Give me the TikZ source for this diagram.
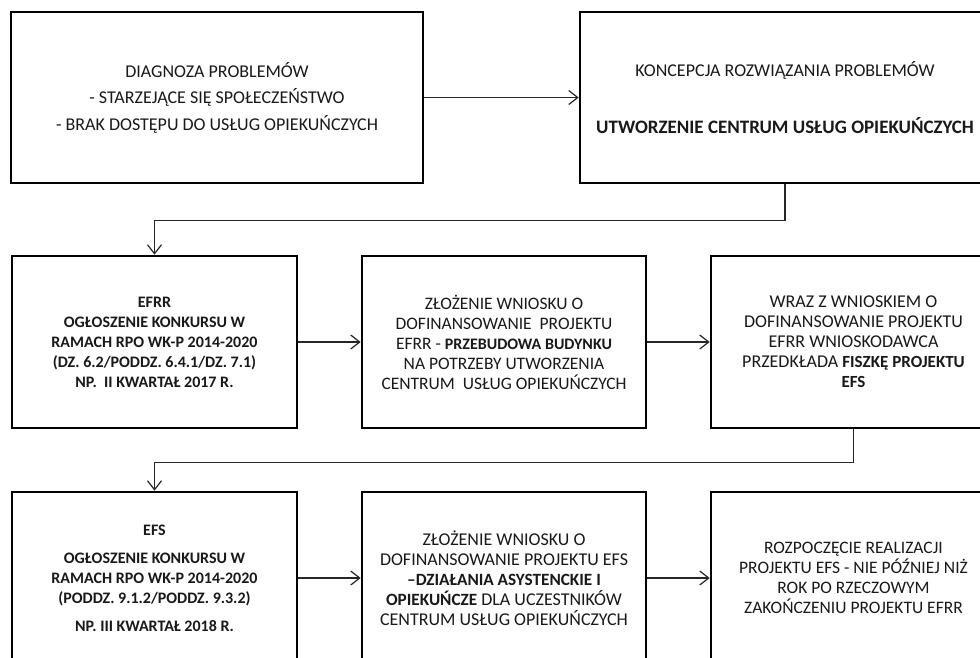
\documentclass[tikz,border=0pt]{standalone}
\usepackage{fontspec}
\setmainfont{Carlito}
\usetikzlibrary{arrows.meta}
\newcommand{\fs}[1]{\fontsize{#1}{20}\selectfont}
\newcommand{\bx}[2]{{\fontsize{#1}{20}\selectfont\bfseries #2}}
\begin{document}
\begin{tikzpicture}[x=1pt,y=-1pt,
  box/.style={draw=black, line width=2.6pt, inner sep=0pt, align=center,
    font=\fs{17.5}, text=black!90},
  conn/.style={draw=black!85, line width=1.2pt},
  arr/.style={conn, -{Straight Barb[length=9pt,width=14pt]}}]
\useasboundingbox (0,0) rectangle (980,657);
\fill[white] (0,0) rectangle (980,657);
\clip (0,0) rectangle (980,657);

\node[box, minimum width=412pt, minimum height=171pt, font=\fs{18}] (b1) at (217,97.5)
 {DIAGNOZA PROBLEMÓW\\[6.5pt]- STARZEJĄCE SIĘ SPOŁECZEŃSTWO\\[6.5pt]- BRAK DOSTĘPU DO USŁUG OPIEKUŃCZYCH};
\node[box, minimum width=410pt, minimum height=171pt, font=\fs{18}] (b2) at (785,97.5)
 {KONCEPCJA ROZWIĄZANIA PROBLEMÓW\\[37pt]\bx{19}{UTWORZENIE CENTRUM USŁUG OPIEKUŃCZYCH}};

\node[box, minimum width=285pt, minimum height=172pt, font=\fs{16}\bfseries] (b3) at (154.5,342)
 {EFRR\\OGŁOSZENIE KONKURSU W\\RAMACH RPO WK-P 2014-2020\\(DZ. 6.2/PODDZ. 6.4.1/DZ. 7.1)\\NP.\ \ II KWARTAŁ 2017 R.};
\node[box, minimum width=284pt, minimum height=172pt] (b4) at (504,342)
 {ZŁOŻENIE WNIOSKU O\\DOFINANSOWANIE\ \ PROJEKTU\\EFRR - \bx{16}{PRZEBUDOWA BUDYNKU}\\NA POTRZEBY UTWORZENIA\\CENTRUM\ \ USŁUG OPIEKUŃCZYCH};
\node[box, minimum width=285pt, minimum height=172pt, font=\fs{18}] (b5) at (853.5,342)
 {WRAZ Z WNIOSKIEM O\\DOFINANSOWANIE PROJEKTU\\EFRR WNIOSKODAWCA\\PRZEDKŁADA \bx{17}{FISZKĘ PROJEKTU}\\\bx{17}{EFS}};

\node[box, minimum width=285pt, minimum height=172pt, font=\fs{16}\bfseries] (b6) at (154.5,578)
 {EFS\\[8pt]OGŁOSZENIE KONKURSU W\\RAMACH RPO WK-P 2014-2020\\(PODDZ. 9.1.2/PODDZ. 9.3.2)\\[8pt]NP. III KWARTAŁ 2018 R.};
\node[box, minimum width=284pt, minimum height=172pt, font=\fs{18}] (b7) at (504,578)
 {ZŁOŻENIE WNIOSKU O\\DOFINANSOWANIE PROJEKTU EFS\\\bx{17.2}{–DZIAŁANIA ASYSTENCKIE I}\\\bx{17.2}{OPIEKUŃCZE} DLA UCZESTNIKÓW\\CENTRUM USŁUG OPIEKUŃCZYCH};
\node[box, minimum width=285pt, minimum height=172pt] (b8) at (853.5,578)
 {ROZPOCZĘCIE REALIZACJI\\PROJEKTU EFS - NIE PÓŹNIEJ NIŻ\\ROK PO RZECZOWYM\\ZAKOŃCZENIU PROJEKTU EFRR};

\draw[arr] (b1.east) -- (b2.west);
\draw[arr] (b2.south) -- ++(0,36) -| (b3.north);
\draw[arr] (b3.east) -- (b4.west);
\draw[arr] (b4.east) -- (b5.west);
\draw[arr] (b5.south) -- ++(0,33) -| (b6.north);
\draw[arr] (b6.east) -- (b7.west);
\draw[arr] (b7.east) -- (b8.west);
\end{tikzpicture}
\end{document}
